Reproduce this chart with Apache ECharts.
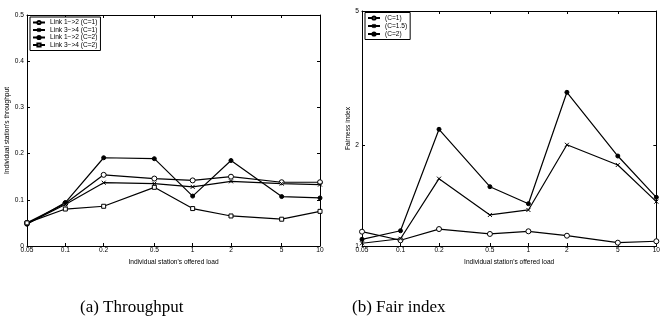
<!DOCTYPE html>
<html><head><meta charset="utf-8">
<script src="https://cdn.jsdelivr.net/npm/echarts@6/dist/echarts.min.js"></script>
<style>html,body{margin:0;padding:0;background:#fff}#c{width:663px;height:327px}</style>
</head><body><div id="c"></div>
<script>
// ---- data ----
const loads = [0.05, 0.1, 0.2, 0.5, 1, 2, 5, 10];
const xTickLabels = ['0.05', '0.1', '0.2', '0.5', '1', '2', '5', '10'];

const thrNames = ['Link 1\u2212>2 (C=1)', 'Link 3\u2212>4 (C=1)', 'Link 1\u2212>2 (C=2)', 'Link 3\u2212>4 (C=2)'];
const thrLink12C1 = [0.050, 0.092, 0.154, 0.146, 0.142, 0.150, 0.138, 0.138];
const thrLink34C1 = [0.048, 0.090, 0.137, 0.135, 0.128, 0.140, 0.135, 0.133];
const thrLink12C2 = [0.047, 0.094, 0.191, 0.189, 0.108, 0.185, 0.107, 0.104];
const thrLink34C2 = [0.050, 0.080, 0.086, 0.127, 0.081, 0.065, 0.058, 0.075];
const thrTicks = [0, 0.1, 0.2, 0.3, 0.4, 0.5];

const fairNames = ['(C=1)', '(C=1.5)', '(C=2)'];
const fairC1 = [1.103, 1.040, 1.123, 1.086, 1.106, 1.073, 1.023, 1.033];
const fairC15 = [1.019, 1.051, 1.586, 1.237, 1.280, 2.000, 1.742, 1.355];
const fairC2 = [1.047, 1.110, 2.224, 1.501, 1.336, 2.865, 1.852, 1.396];
const fairTicks = [1, 2, 5];

// ---- helpers ----
const pairs = ys => loads.map((x, i) => [x, ys[i]]);
const FONT = 'Liberation Sans';
const xLabelOf = v => { const i = loads.findIndex(l => Math.abs(l - v) < 1e-9); return i >= 0 ? xTickLabels[i] : ''; };
const xSymbol = 'path://M0,0L10,10M10,0L0,10';

function xAx(grid, main, name) {
  return {
    type: 'log', gridIndex: grid, min: 0.05, max: 10, logBase: 10,
    position: main ? 'bottom' : 'top',
    name: main ? name : '', nameLocation: 'middle', nameGap: 9,
    nameTextStyle: { fontFamily: FONT, fontSize: 6.6, color: '#000' },
    axisLine: { show: true, onZero: false, lineStyle: { color: '#000', width: 1 } },
    axisTick: { show: true, inside: true, length: 3, customValues: loads, lineStyle: { color: '#000' } },
    axisLabel: { show: main, customValues: loads, margin: 1, formatter: xLabelOf, fontFamily: FONT, fontSize: 6.6, color: '#000' },
    splitLine: { show: false }, minorTick: { show: false }
  };
}
function lineSeries(name, data, xi, yi, symbol, size, fill) {
  return {
    type: 'line', name, data, xAxisIndex: xi, yAxisIndex: yi,
    symbol, symbolSize: size, showSymbol: true,
    color: '#000',
    lineStyle: { color: '#000', width: 1.2 },
    itemStyle: { color: fill, borderColor: '#000', borderWidth: 1 },
    emphasis: { disabled: true }, animation: false
  };
}

const chart = echarts.init(document.getElementById('c'), null, { renderer: 'canvas' });
chart.setOption({
  animation: false,
  backgroundColor: '#fff',
  title: [
    { text: '(a) Throughput', left: 80, top: 299, padding: 0, textStyle: { fontFamily: 'Liberation Serif', fontSize: 17, fontWeight: 'normal', color: '#000' } },
    { text: '(b) Fair index', left: 352, top: 299, padding: 0, textStyle: { fontFamily: 'Liberation Serif', fontSize: 17, fontWeight: 'normal', color: '#000' } }
  ],
  grid: [
    { left: 27, right: 343, top: 15, bottom: 81 },
    { left: 362, right: 1, top: 11, bottom: 81 }
  ],
  legend: [
    { data: thrNames, orient: 'vertical', left: 30, top: 17, padding: [2, 3, 2, 2], itemGap: 0.5, itemWidth: 12, itemHeight: 4,
      borderColor: '#000', borderWidth: 1, backgroundColor: '#fff',
      textStyle: { fontFamily: FONT, fontSize: 6.6, color: '#000', lineHeight: 7 } },
    { data: fairNames, orient: 'vertical', left: 365, top: 12.5, padding: [2, 3, 2, 2], itemGap: 1, itemWidth: 12, itemHeight: 4,
      borderColor: '#000', borderWidth: 1, backgroundColor: '#fff',
      textStyle: { fontFamily: FONT, fontSize: 6.6, color: '#000', lineHeight: 7 } }
  ],
  xAxis: [
    xAx(0, true, "Individual station's offered load"),
    xAx(0, false, ''),
    xAx(1, true, "Individual station's offered load"),
    xAx(1, false, '')
  ],
  yAxis: [
    { type: 'value', gridIndex: 0, min: 0, max: 0.5, interval: 0.1, position: 'left',
      name: "Individual station's throughput", nameLocation: 'middle', nameGap: 11,
      nameTextStyle: { fontFamily: FONT, fontSize: 6.6, color: '#000' },
      axisLine: { show: true, onZero: false, lineStyle: { color: '#000' } },
      axisTick: { show: true, inside: true, length: 3, lineStyle: { color: '#000' } },
      axisLabel: { margin: 3, fontFamily: FONT, fontSize: 6.6, color: '#000', formatter: v => String(thrTicks.find(t => Math.abs(t - v) < 1e-9) ?? v) },
      splitLine: { show: false } },
    { type: 'value', gridIndex: 0, min: 0, max: 0.5, interval: 0.1, position: 'right',
      axisLine: { show: true, onZero: false, lineStyle: { color: '#000' } },
      axisTick: { show: true, inside: true, length: 3, lineStyle: { color: '#000' } },
      axisLabel: { show: false }, splitLine: { show: false } },
    { type: 'log', gridIndex: 1, min: 1, max: 5, logBase: 10, position: 'left',
      name: 'Fairness index', nameLocation: 'middle', nameGap: 7,
      nameTextStyle: { fontFamily: FONT, fontSize: 6.6, color: '#000' },
      axisLine: { show: true, onZero: false, lineStyle: { color: '#000' } },
      axisTick: { show: true, inside: true, length: 3, customValues: fairTicks, lineStyle: { color: '#000' } },
      axisLabel: { margin: 3, customValues: fairTicks, fontFamily: FONT, fontSize: 6.6, color: '#000', formatter: v => String(Math.round(v)) },
      splitLine: { show: false }, minorTick: { show: false } },
    { type: 'log', gridIndex: 1, min: 1, max: 5, logBase: 10, position: 'right',
      axisLine: { show: true, onZero: false, lineStyle: { color: '#000' } },
      axisTick: { show: true, inside: true, length: 3, customValues: fairTicks, lineStyle: { color: '#000' } },
      axisLabel: { show: false }, splitLine: { show: false } }
  ],
  series: [
    lineSeries(thrNames[0], pairs(thrLink12C1), 0, 0, 'circle', 5, '#fff'),
    lineSeries(thrNames[1], pairs(thrLink34C1), 0, 0, xSymbol, 4, '#000'),
    lineSeries(thrNames[2], pairs(thrLink12C2), 0, 0, 'circle', 4, '#000'),
    lineSeries(thrNames[3], pairs(thrLink34C2), 0, 0, 'rect', 4, '#fff'),
    lineSeries(fairNames[0], pairs(fairC1), 2, 2, 'circle', 5, '#fff'),
    lineSeries(fairNames[1], pairs(fairC15), 2, 2, xSymbol, 4, '#000'),
    lineSeries(fairNames[2], pairs(fairC2), 2, 2, 'circle', 4, '#000')
  ]
});
</script></body></html>
